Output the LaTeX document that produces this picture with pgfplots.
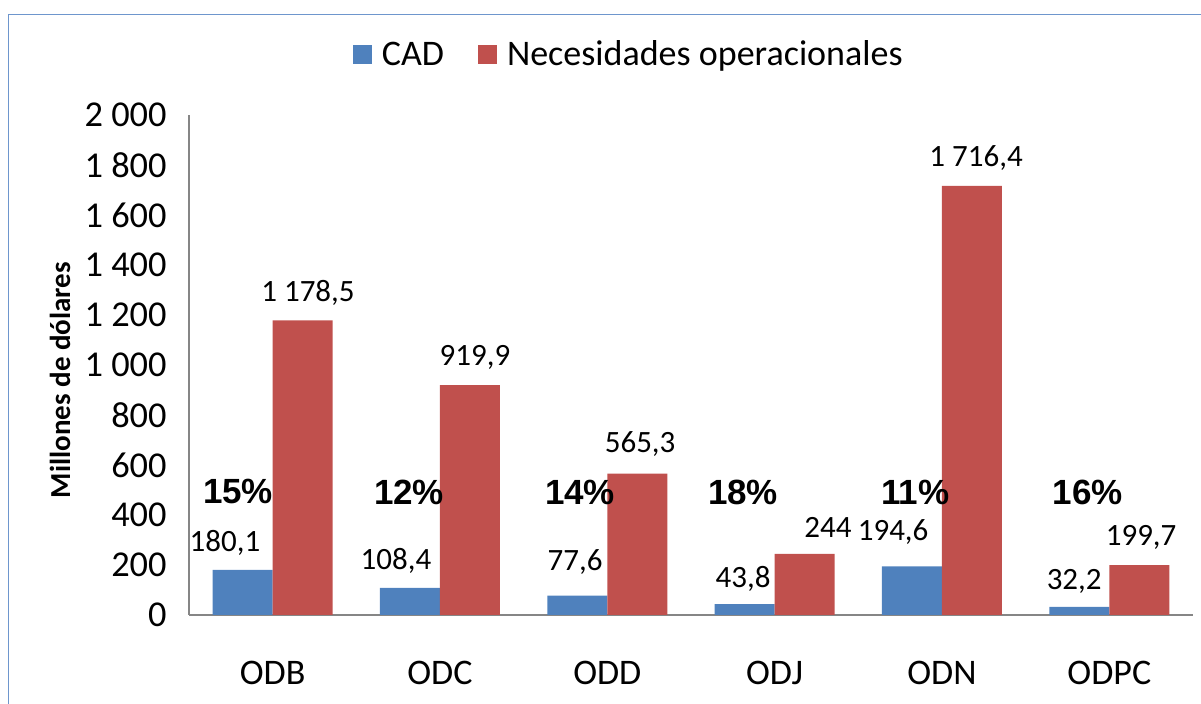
\documentclass[border=0pt]{standalone}
\usepackage{pgfplots}
\pgfplotsset{compat=1.18}
\usepackage{fontspec}
\setmainfont{Carlito}
\newfontfamily\arialfont{Liberation Sans}
\definecolor{cadblue}{RGB}{79,129,189}
\definecolor{necred}{RGB}{192,80,77}
\definecolor{axisgray}{RGB}{134,134,134}
\definecolor{framecol}{RGB}{110,150,205}
\begin{document}
\begin{tikzpicture}
\useasboundingbox (0pt,0pt) rectangle (600.5pt,-352pt);
\draw[framecol, line width=0.8pt] (4.25pt,-7.25pt) rectangle (620pt,-370pt);
\begin{axis}[
  at={(94.5pt,-307.5pt)}, anchor=south west,
  scale only axis, width=502pt, height=250pt,
  xmin=-0.5, xmax=5.5, ymin=0, ymax=2000,
  axis x line*=bottom, axis y line*=left,
  axis line style={axisgray, line width=1pt, -},
  major tick length=0pt,
  xtick={0,...,5}, xticklabels={ODB,ODC,ODD,ODJ,ODN,ODPC},
  ytick={0,200,...,2000},
  yticklabels={0,200,400,600,800,1 000,1 200,1 400,1 600,1 800,2 000},
  yticklabel style={font=\fontsize{18.2pt}{21pt}\selectfont, anchor=east, inner sep=0pt, xshift=-11pt},
  xticklabel style={font=\fontsize{18pt}{21pt}\selectfont, anchor=north, inner sep=0pt, yshift=-23pt},
  ylabel={Millones de dólares},
  ylabel style={at={(axis description cs:-0.1285,0.47)}, anchor=center, font=\bfseries\fontsize{14.5pt}{17pt}\selectfont},
  legend style={at={(0.439,1.12)}, anchor=center, draw=none, fill=none,
    font=\fontsize{18pt}{21pt}\selectfont, legend columns=2,
    /tikz/every odd column/.append style={column sep=3pt},
    /tikz/every even column/.append style={column sep=15pt}},
  legend cell align=left,
  clip=false,
]
\addplot[ybar, bar width=30pt, bar shift=-15pt, fill=cadblue, draw=none,
  legend image code/.code={\fill[cadblue] (0pt,-4.75pt) rectangle (9.5pt,4.75pt);}]
  coordinates {(0,180.1) (1,108.4) (2,77.6) (3,43.8) (4,194.6) (5,32.2)};
\addlegendentry{CAD}
\addplot[ybar, bar width=30pt, bar shift=15pt, fill=necred, draw=none,
  legend image code/.code={\fill[necred] (0pt,-4.75pt) rectangle (9.5pt,4.75pt);}]
  coordinates {(0,1178.5) (1,919.9) (2,565.3) (3,244) (4,1716.4) (5,199.7)};
\addlegendentry{Necesidades operacionales}
% value labels
\addplot[only marks, mark=none, forget plot, nodes near coords, point meta=explicit symbolic,
  every node near coord/.append style={anchor=center, inner sep=0pt, font=\fontsize{15.5pt}{18pt}\selectfont}]
  coordinates {
  (-0.285,288)[{180,1}] (0.211,1288)[{1 178,5}]
  (0.737,216)[{108,4}] (1.209,1032)[{919,9}]
  (1.807,212)[{77,6}] (2.196,684)[{565,3}]
  (2.811,144)[{43,8}] (3.319,352)[{244}]
  (3.708,332)[{194,6}] (4.204,1828)[{1 716,4}]
  (4.790,136)[{32,2}] (5.190,312)[{199,7}]
  };
% percentage labels
\addplot[only marks, mark=none, forget plot, nodes near coords, point meta=explicit symbolic,
  every node near coord/.append style={anchor=center, inner sep=0pt, font=\arialfont\bfseries\fontsize{17.5pt}{20pt}\selectfont}]
  coordinates {
  (-0.207,492)[15\%] (0.815,492)[12\%] (1.837,492)[14\%]
  (2.811,492)[18\%] (3.84,492)[11\%] (4.87,492)[16\%]
  };
\end{axis}
\end{tikzpicture}
\end{document}
